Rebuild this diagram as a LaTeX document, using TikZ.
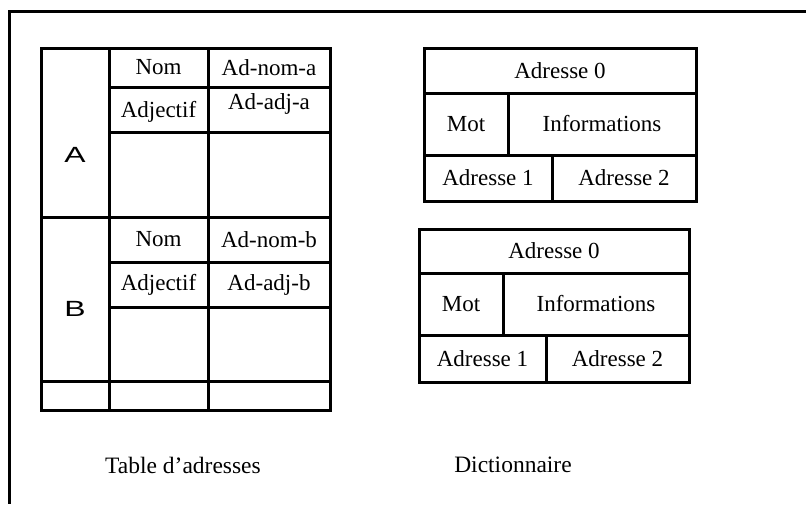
\documentclass[tikz,border=0pt]{standalone}
\usepackage{fontspec}
\setmainfont{Liberation Serif}
\newfontfamily\helv{Liberation Sans}
\usepackage{tikz}
\usetikzlibrary{positioning}

\begin{document}
\begin{tikzpicture}[
      x=1pt, y=-1pt,
      line width=3pt
    ]

    \tikzstyle{cell} = [rectangle, draw=black, inner sep=0pt, font=\fontsize{23}{26}\selectfont]
    \tikzstyle{txt} = [inner sep=0pt, font=\fontsize{23}{26}\selectfont]
    \tikzstyle{letter} = [inner sep=0pt, font=\helv\fontsize{22}{26}\selectfont]
    \tikzstyle{caption} = [inner sep=0pt, font=\fontsize{23.5}{26}\selectfont]

    \useasboundingbox (0,0) rectangle (806,504);

    % cadre
    \coordinate (frameTL) at (9,11);
    \coordinate (frameTR) at (806,11);
    \coordinate (frameBL) at (9,504);
    \draw (frameTR) -- (frameTL) -- (frameBL);

    % table d'adresses
    \node [cell, minimum width=68pt, minimum height=169pt] (blockA) at (75,132.5) {};
    \node [cell, minimum width=68pt, minimum height=164pt] (blockB) at (75,299) {};
    \node [letter] (labA) at (75,155) {\scalebox{1.45}[1]{A}};
    \node [letter] (labB) at (75,309) {\scalebox{1.45}[1]{B}};

    \node [cell, minimum width=99pt, minimum height=39pt] (nomA) at (158.5,67.5) {Nom};
    \node [cell, minimum width=122pt, minimum height=39pt] (adnomA) at (269,67.5) {Ad-nom-a};
    \node [cell, minimum width=99pt, minimum height=45pt] (adjA) at (158.5,109.5) {};
    \node [txt] (txtAdjA) at (158.5,112) {Adjectif};
    \node [cell, minimum width=122pt, minimum height=45pt] (adadjA) at (269,109.5) {};
    \node [txt] (txtAdadjA) at (269,104) {Ad-adj-a};
    \node [cell, minimum width=99pt, minimum height=85pt] (videA1) at (158.5,174.5) {};
    \node [cell, minimum width=122pt, minimum height=85pt] (videA2) at (269,174.5) {};

    \node [cell, minimum width=99pt, minimum height=45pt] (nomB) at (158.5,239.5) {Nom};
    \node [cell, minimum width=122pt, minimum height=45pt] (adnomB) at (269,239.5) {Ad-nom-b};
    \node [cell, minimum width=99pt, minimum height=45pt] (adjB) at (158.5,284.5) {Adjectif};
    \node [cell, minimum width=122pt, minimum height=45pt] (adadjB) at (269,284.5) {Ad-adj-b};
    \node [cell, minimum width=99pt, minimum height=74pt] (videB1) at (158.5,344) {};
    \node [cell, minimum width=122pt, minimum height=74pt] (videB2) at (269,344) {};

    \node [cell, minimum width=68pt, minimum height=29pt] (finC1) at (75,395.5) {};
    \node [cell, minimum width=99pt, minimum height=29pt] (finC2) at (158.5,395.5) {};
    \node [cell, minimum width=122pt, minimum height=29pt] (finC3) at (269,395.5) {};

    % dictionnaire, premier mot
    \node [cell, minimum width=272pt, minimum height=45pt] (adr0a) at (560,70.5) {Adresse 0};
    \node [cell, minimum width=84pt, minimum height=62pt] (motA) at (466,124) {Mot};
    \node [cell, minimum width=188pt, minimum height=62pt] (infoA) at (602,124) {Informations};
    \node [cell, minimum width=128pt, minimum height=46pt] (adr1a) at (488,178) {Adresse 1};
    \node [cell, minimum width=144pt, minimum height=46pt] (adr2a) at (624,178) {Adresse 2};

    % dictionnaire, second mot
    \node [cell, minimum width=270pt, minimum height=44pt] (adr0b) at (554,251) {Adresse 0};
    \node [cell, minimum width=84pt, minimum height=62pt] (motB) at (461,304) {Mot};
    \node [cell, minimum width=186pt, minimum height=62pt] (infoB) at (596,304) {Informations};
    \node [cell, minimum width=127pt, minimum height=47pt] (adr1b) at (482.5,358.5) {Adresse 1};
    \node [cell, minimum width=143pt, minimum height=47pt] (adr2b) at (617.5,358.5) {Adresse 2};

    % legendes
    \node [caption] (capTable) at (183,465) {Table d'adresses};
    \node [caption] (capDico) at (513,465) {Dictionnaire};

\end{tikzpicture}
\end{document}
